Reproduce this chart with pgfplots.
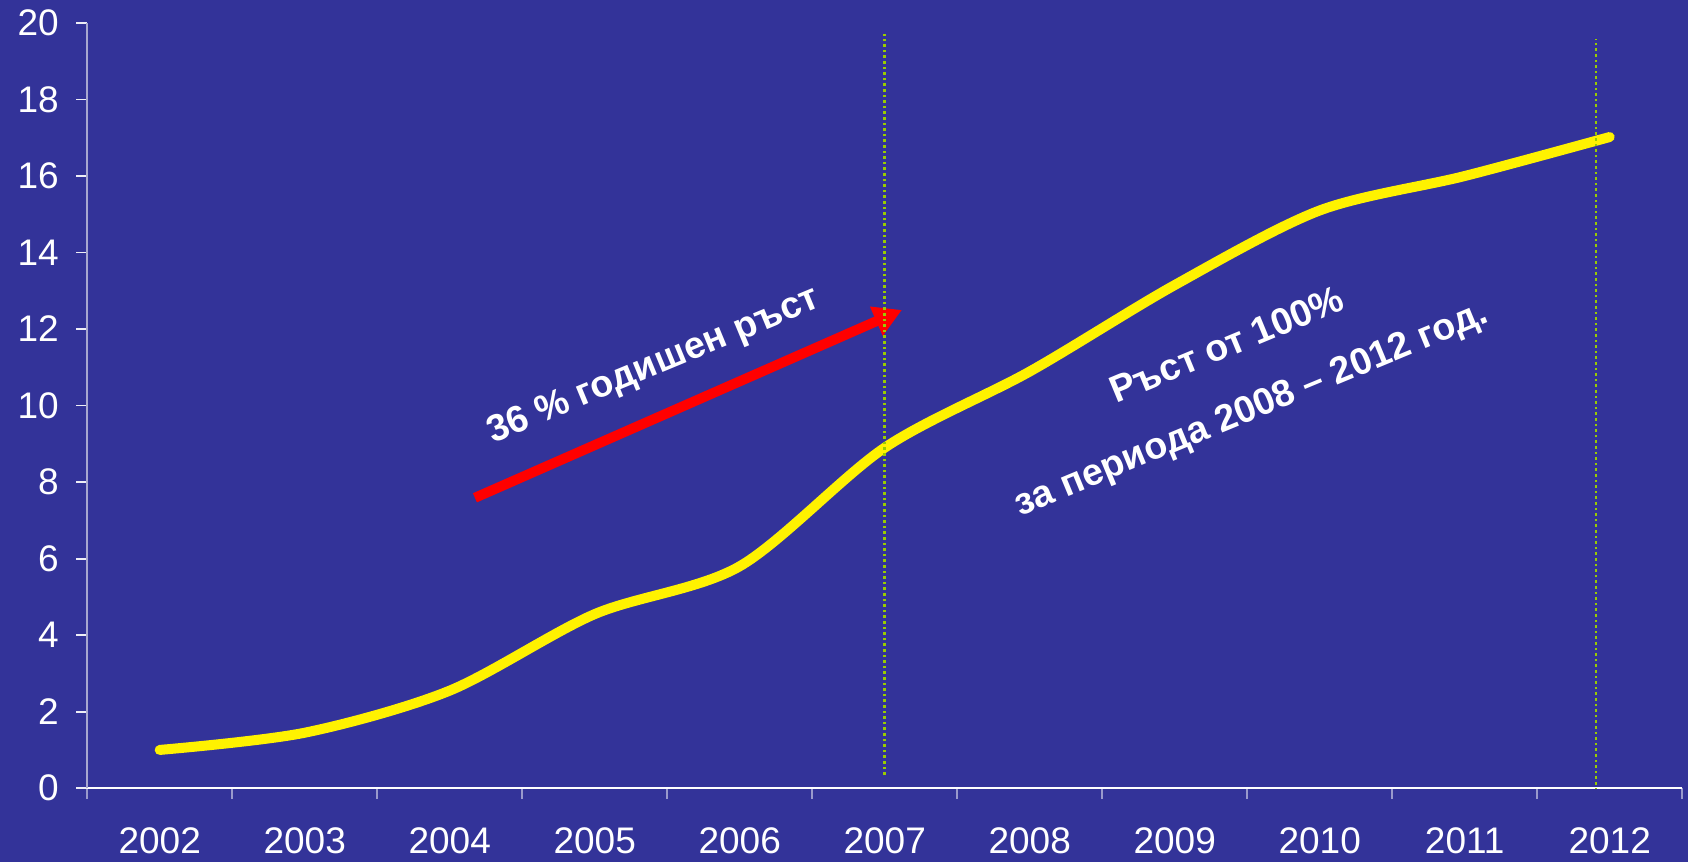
\documentclass[border=0pt]{standalone}
\usepackage{pgfplots}
\pgfplotsset{compat=1.18}
\usetikzlibrary{arrows.meta}
\usepackage{fontspec}
\setmainfont{Liberation Sans}
\definecolor{bg}{HTML}{333399}
\definecolor{dotc}{HTML}{99CC00}
\definecolor{yax}{HTML}{A8A8D0}
\definecolor{xtk}{HTML}{9999CC}
\begin{document}
\begin{tikzpicture}
\fill[bg] (-43.6bp,-36.9bp) rectangle (800.4bp,394.1bp);
\useasboundingbox (-43.6bp,-36.9bp) rectangle (800.4bp,394.1bp);
\begin{axis}[
  at={(0,0)}, anchor=south west,
  scale only axis, width=797.5bp, height=382.6bp,
  xmin=-0.5, xmax=10.5, ymin=0, ymax=20,
  axis lines*=left,
  axis line style={-},
  x axis line style={white, line width=0.9bp},
  y axis line style={yax, line width=0.9bp},
  tick align=outside,
  xtick={-0.5,0.5,...,10.5},
  x tick label as interval,
  xticklabels={2002,2003,2004,2005,2006,2007,2008,2009,2010,2011,2012},
  ytick={0,2,...,20},
  xtick style={color=xtk, line width=0.9bp},
  ytick style={color=white!80!yax, line width=0.9bp},
  major tick length=5.5bp,
  tick label style={white, font=\fontsize{18.5bp}{20bp}\selectfont},
  /pgf/number format/assume math mode=true,
  xticklabel style={anchor=north, inner sep=0pt, yshift=-14bp},
  yticklabel style={anchor=east, inner sep=0pt, xshift=-8.5bp},
]
\addplot[yellow, line width=5bp, smooth, line cap=round] coordinates {
(0,1.0) (1,1.45) (2,2.55) (3,4.55) (4,5.8) (5,8.9) (6,10.89) (7,13.15) (8,15.1) (9,16.0) (10,17.02)};
\addplot[red, line width=5bp, -{Triangle[length=14bp, width=15bp]}] coordinates {(2.174,7.59) (5.119,12.5)};
\addplot[dotc, line width=1.3bp, dash pattern=on 1.3bp off 1.5bp] coordinates {(5,0.35) (5,19.7)};
\addplot[dotc, line width=1.3bp, dash pattern=on 1.3bp off 1.5bp] coordinates {(9.905,-0.05) (9.905,19.58)};
\node[rotate=22.5, anchor=base, white, font=\bfseries\fontsize{18.8bp}{20bp}\selectfont] at (axis cs:3.433,10.8) {36 \% годишен ръст};
\node[rotate=22.5, anchor=base, white, font=\bfseries\fontsize{18.8bp}{20bp}\selectfont] at (axis cs:7.392,11.29) {Ръст от 100\%};
\node[rotate=22.5, anchor=base, white, font=\bfseries\fontsize{18.8bp}{20bp}\selectfont] at (axis cs:7.557,9.65) {за периода 2008 – 2012 год.};
\end{axis}
\end{tikzpicture}
\end{document}
